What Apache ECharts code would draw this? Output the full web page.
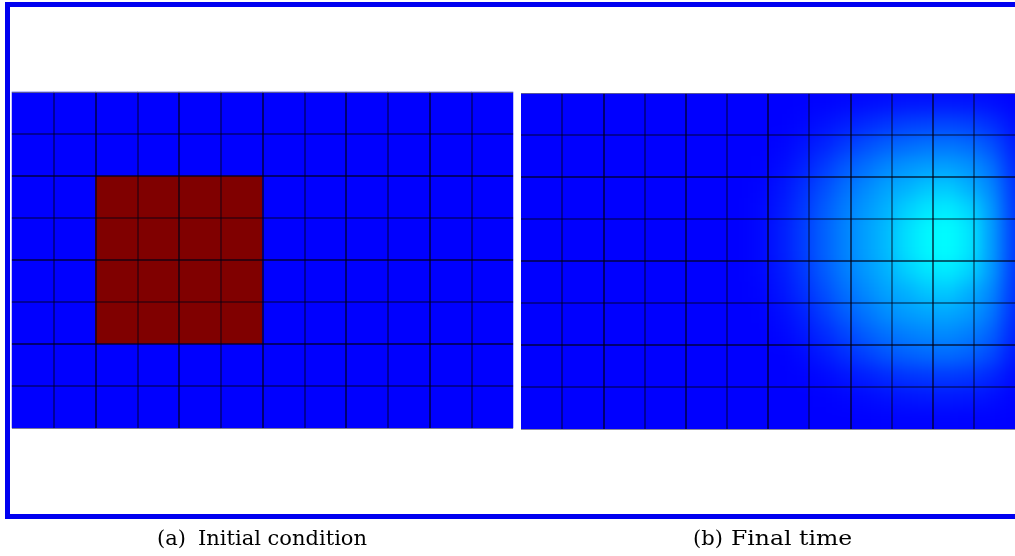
<!DOCTYPE html>
<html><head><meta charset="utf-8">
<script src="https://cdn.jsdelivr.net/npm/echarts@6/dist/echarts.min.js"></script>
<style>
html,body{margin:0;padding:0;background:#fff;width:1015px;height:556px;overflow:hidden}
#clip{position:absolute;left:521px;top:93px;width:494px;height:336px;overflow:hidden;background:#0000ff}
#blob{position:absolute;left:-40px;top:-40px;width:581px;height:416px;filter:blur(8px)}
#main{position:absolute;left:0;top:0;width:1015px;height:556px}
</style></head><body>
<div id="clip"><div id="blob"></div></div>
<div id="main"></div>
<script>
// ---- data ----
const coarseCols = ['0','1','2','3','4','5','6','7','8','9','10','11'];
const coarseRows = ['0','1','2','3','4','5','6','7'];
const fineCols = ['0','1','2','3','4','5','6','7','8','9','10','11','12','13','14','15','16','17','18','19','20','21','22','23'];
const fineRows = ['0','1','2','3','4','5','6','7','8','9','10','11','12','13','14','15'];
// (a) initial condition, rows top to bottom
const initialRows = [
  [0,0,0,0,0,0,0,0,0,0,0,0],
  [0,0,0,0,0,0,0,0,0,0,0,0],
  [0,0,1,1,1,1,0,0,0,0,0,0],
  [0,0,1,1,1,1,0,0,0,0,0,0],
  [0,0,1,1,1,1,0,0,0,0,0,0],
  [0,0,1,1,1,1,0,0,0,0,0,0],
  [0,0,0,0,0,0,0,0,0,0,0,0],
  [0,0,0,0,0,0,0,0,0,0,0,0]
];
// (b) final time, half-cell resolution, rows top to bottom
const finalRows = [
  [0,0,0,0,0,0,0,0,0,0,0,0,0,.001,.004,.009,.014,.019,.024,.026,.027,.024,.018,.007],
  [0,0,0,0,0,0,0,0,0,0,0,0,0,.007,.018,.031,.046,.059,.070,.075,.077,.070,.053,.023],
  [0,0,0,0,0,0,0,0,0,0,0,0,.006,.020,.039,.064,.088,.107,.121,.129,.131,.120,.093,.042],
  [0,0,0,0,0,0,0,0,0,0,0,.001,.012,.033,.064,.097,.124,.148,.165,.175,.178,.163,.127,.058],
  [0,0,0,0,0,0,0,0,0,0,0,.005,.022,.050,.086,.122,.153,.180,.199,.222,.225,.197,.153,.071],
  [0,0,0,0,0,0,0,0,0,0,0,.008,.028,.060,.100,.137,.170,.197,.232,.256,.262,.236,.173,.078],
  [0,0,0,0,0,0,0,0,0,0,0,.009,.031,.066,.107,.144,.178,.207,.250,.278,.284,.258,.179,.082],
  [0,0,0,0,0,0,0,0,0,0,0,.009,.031,.066,.107,.144,.178,.207,.250,.278,.284,.258,.179,.082],
  [0,0,0,0,0,0,0,0,0,0,0,.008,.028,.060,.100,.137,.170,.197,.232,.256,.262,.236,.173,.078],
  [0,0,0,0,0,0,0,0,0,0,0,.005,.022,.050,.086,.122,.153,.180,.199,.222,.225,.197,.153,.071],
  [0,0,0,0,0,0,0,0,0,0,0,.001,.013,.035,.067,.102,.131,.156,.174,.184,.187,.172,.134,.061],
  [0,0,0,0,0,0,0,0,0,0,0,0,.007,.023,.046,.075,.104,.126,.142,.152,.154,.141,.109,.049],
  [0,0,0,0,0,0,0,0,0,0,0,0,0,.010,.027,.048,.070,.091,.107,.116,.118,.107,.081,.035],
  [0,0,0,0,0,0,0,0,0,0,0,0,0,.002,.009,.021,.034,.047,.058,.064,.065,.059,.043,.017],
  [0,0,0,0,0,0,0,0,0,0,0,0,0,0,.001,.006,.011,.018,.023,.027,.027,.024,.017,.006],
  [0,0,0,0,0,0,0,0,0,0,0,0,0,0,0,0,.001,.003,.004,.005,.006,.004,.003,.001]
];
const captions = ['(a) Initial condition', '(b) Final time'];
const jetColors = ['#0000ff','#0080ff','#00ffff','#80ff80','#ffff00','#ff8000','#ff0000','#800000'];

function toCells(rows){
  const out = [];
  rows.forEach((r, j) => r.forEach((v, i) => out.push([i, j, v])));
  return out;
}
const hidden = {show:false};

// ---- smoothed field for panel (b) ----
const blob = echarts.init(document.getElementById('blob'), null, {renderer:'canvas'});
blob.setOption({
  animation:false,
  backgroundColor:'#0000ff',
  grid:{left:40, top:40, width:501, height:336, show:true, backgroundColor:'#0000ff', borderWidth:0},
  xAxis:{type:'category', data:fineCols, show:false},
  yAxis:{type:'category', data:fineRows, inverse:true, show:false},
  visualMap:{show:false, min:0, max:1, inRange:{color:jetColors}},
  series:[{type:'heatmap', data:toCells(finalRows), itemStyle:{borderWidth:0}}]
});

// ---- main chart ----
function lineAxis(dim, gi, max){
  return {type:'value', gridIndex:gi, min:0, max:max, interval:2, z:10, inverse: dim === 'y',
    axisLine:hidden, axisTick:hidden, axisLabel:hidden,
    splitLine:{show:true, showMinLine:false, showMaxLine:false, lineStyle:{color:'rgba(0,0,20,0.6)', width:2}},
    minorTick:{show:false, splitNumber:2},
    minorSplitLine:{show:true, lineStyle:{color:'rgba(0,0,20,0.42)', width:2}}};
}
function captionParts(text, labelX, titleX, titleScale){
  const k = text.indexOf(' ');
  const font = '21px "DejaVu Serif"';
  return [
    {type:'text', z:20, x:labelX, y:540, style:{text:text.slice(0,k), x:0, y:0, textAlign:'left', textVerticalAlign:'middle', font:font, fill:'#000'}},
    {type:'text', z:20, x:titleX, y:540, scaleX:titleScale, style:{text:text.slice(k+1), x:0, y:0, textAlign:'left', textVerticalAlign:'middle', font:font, fill:'#000'}}
  ];
}
const main = echarts.init(document.getElementById('main'), null, {renderer:'canvas'});
main.setOption({
  animation:false,
  backgroundColor:'transparent',
  grid:[
    {left:12, top:92, width:501, height:336, show:true, backgroundColor:'#0000ff', borderWidth:0},
    {left:12, top:92, width:501, height:336},
    {left:521, top:93, width:501, height:336}
  ],
  xAxis:[
    {type:'category', gridIndex:0, data:coarseCols, show:false},
    lineAxis('x', 1, 12), lineAxis('x', 2, 12)
  ],
  yAxis:[
    {type:'category', gridIndex:0, data:coarseRows, inverse:true, show:false},
    lineAxis('y', 1, 8), lineAxis('y', 2, 8)
  ],
  visualMap:{show:false, seriesIndex:0, min:0, max:1, inRange:{color:jetColors}},
  series:[{type:'heatmap', xAxisIndex:0, yAxisIndex:0, data:toCells(initialRows), itemStyle:{borderWidth:0}}],
  graphic:[
    {type:'line', z:20, shape:{x1:12, y1:92.5, x2:513, y2:92.5}, style:{stroke:'rgba(110,110,130,0.8)', lineWidth:1}},
    {type:'line', z:20, shape:{x1:12, y1:428.5, x2:513, y2:428.5}, style:{stroke:'rgba(110,110,130,0.8)', lineWidth:1}},
    {type:'line', z:20, shape:{x1:521, y1:93.5, x2:1015, y2:93.5}, style:{stroke:'rgba(110,110,130,0.8)', lineWidth:1}},
    {type:'line', z:20, shape:{x1:521, y1:429.5, x2:1015, y2:429.5}, style:{stroke:'rgba(110,110,130,0.8)', lineWidth:1}},
    {type:'rect', z:20, shape:{x:7.5, y:4.5, width:1020, height:512}, style:{fill:'none', stroke:'#0000f0', lineWidth:5}}
  ].concat(captionParts(captions[0], 157, 198, 1), captionParts(captions[1], 693, 731, 1.12))
});
</script>
</body></html>
